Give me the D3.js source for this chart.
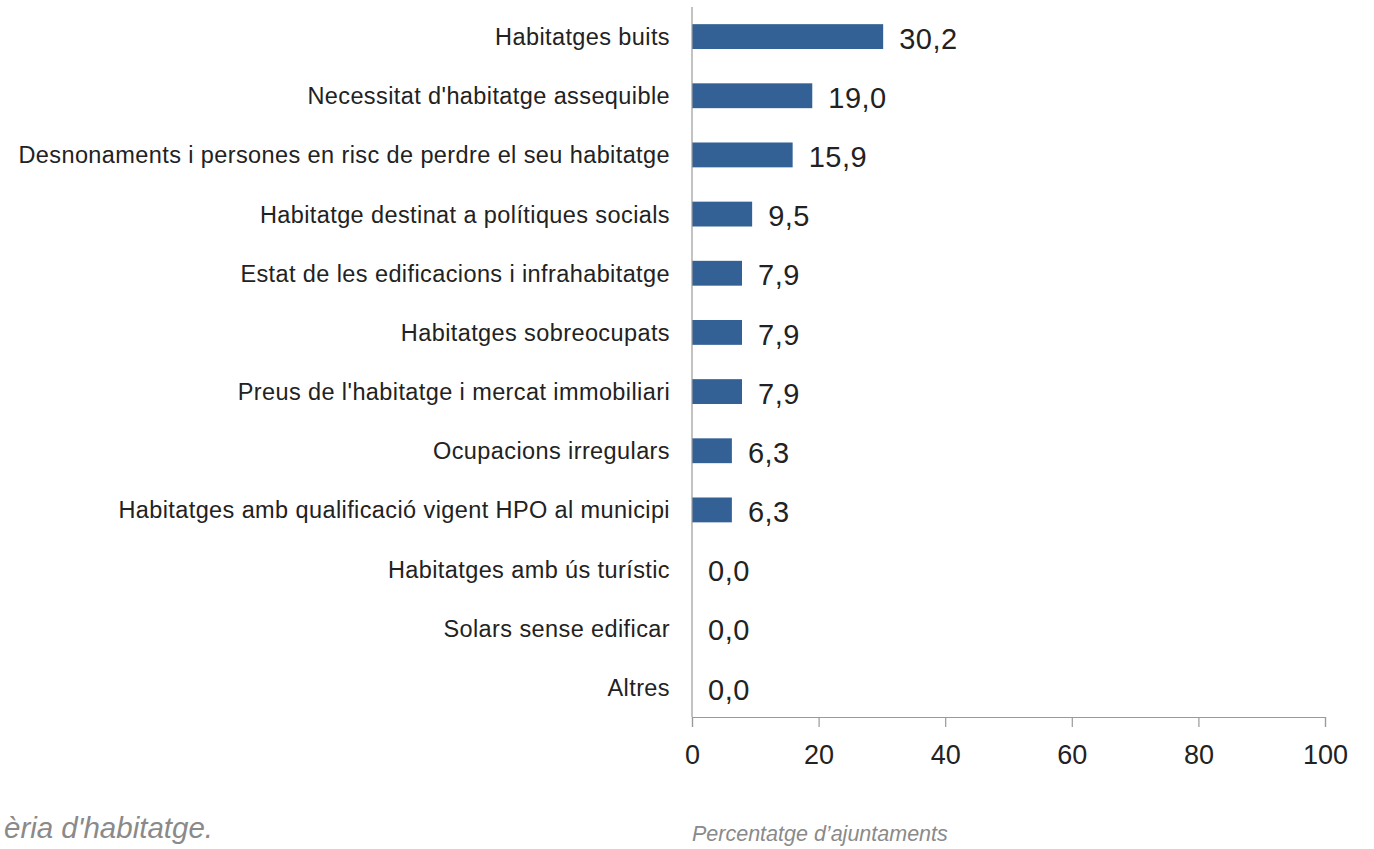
<!DOCTYPE html>
<html>
<head>
<meta charset="utf-8">
<script src="https://cdn.jsdelivr.net/npm/d3@7"></script>
<style>
  body { margin: 0; background: #fff; }
  svg { display: block; }
</style>
</head>
<body>
<div id="chart"></div>
<script>
var width = 1374
var height = 849

// data
var categories = [
  "Habitatges buits",
  "Necessitat d'habitatge assequible",
  "Desnonaments i persones en risc de perdre el seu habitatge",
  "Habitatge destinat a polítiques socials",
  "Estat de les edificacions i infrahabitatge",
  "Habitatges sobreocupats",
  "Preus de l'habitatge i mercat immobiliari",
  "Ocupacions irregulars",
  "Habitatges amb qualificació vigent HPO al municipi",
  "Habitatges amb ús turístic",
  "Solars sense edificar",
  "Altres"
]
var values = [30.2, 19.0, 15.9, 9.5, 7.9, 7.9, 7.9, 6.3, 6.3, 0.0, 0.0, 0.0]
var xTicks = [0, 20, 40, 60, 80, 100]

var barColor = "#336195"
var axisColor = "#9a9a9a"
var font = "'Liberation Sans', Arial, sans-serif"

var x = d3.scaleLinear()
    .domain([0, 100])
    .range([692, 1325])
var y = d3.scaleBand()
    .domain(categories)
    .range([7, 717])
    .paddingInner(0.58)
    .paddingOuter(0.29)

var svg = d3.select("#chart").append("svg")
    .attr("width", width)
    .attr("height", height)

// bars
svg.selectAll("rect.bar")
    .data(values)
    .enter()
    .append("rect")
    .attr("class", "bar")
    .attr("x", x(0))
    .attr("y", function(d, i) { return y(categories[i]) })
    .attr("width", function(d) { return x(d) - x(0) })
    .attr("height", y.bandwidth())
    .attr("fill", barColor)

// value labels
svg.selectAll("text.val")
    .data(values)
    .enter()
    .append("text")
    .attr("class", "val")
    .attr("x", function(d) { return x(d) + 16 })
    .attr("y", function(d, i) { return y(categories[i]) + y.bandwidth() / 2 })
    .attr("dy", "0.42em")
    .style("font-family", font)
    .style("font-size", "29px")
    .style("letter-spacing", "0.5px")
    .attr("fill", "#222")
    .text(function(d) { return d.toFixed(1).replace(".", ",") })

// category labels
svg.selectAll("text.cat")
    .data(categories)
    .enter()
    .append("text")
    .attr("class", "cat")
    .attr("x", 670)
    .attr("y", function(d) { return y(d) + y.bandwidth() / 2 })
    .attr("dy", "0.36em")
    .attr("text-anchor", "end")
    .style("font-family", font)
    .style("font-size", "23.5px")
    .style("letter-spacing", "0.4px")
    .attr("fill", "#222")
    .text(function(d) { return d })

// y axis line
svg.append("line")
    .attr("x1", x(0)).attr("x2", x(0))
    .attr("y1", 7).attr("y2", 717)
    .attr("stroke", axisColor)
    .attr("stroke-width", 1.2)

// x axis
var bAxis = d3.axisBottom(x)
    .tickValues(xTicks)
    .tickSize(10)
    .tickPadding(18)
    .tickFormat(d3.format("d"))
var gx = svg.append("g")
    .attr("transform", "translate(0,717)")
    .call(bAxis)
gx.select(".domain").attr("stroke", axisColor).attr("stroke-width", 1.2)
gx.selectAll(".tick line").attr("stroke", axisColor).attr("stroke-width", 1.2)
gx.selectAll(".tick text")
    .style("font-family", font)
    .style("font-size", "27px")
    .attr("fill", "#222")

// footer texts
svg.append("text")
    .attr("x", 213)
    .attr("y", 838)
    .attr("text-anchor", "end")
    .style("font-family", font)
    .style("font-style", "italic")
    .style("font-size", "29.5px")
    .attr("fill", "#8a8a8a")
    .text("èria d'habitatge.")

svg.append("text")
    .attr("x", 692)
    .attr("y", 841)
    .style("font-family", font)
    .style("font-style", "italic")
    .style("font-size", "21.5px")
    .attr("fill", "#8a8a8a")
    .text("Percentatge d’ajuntaments")
</script>
</body>
</html>
